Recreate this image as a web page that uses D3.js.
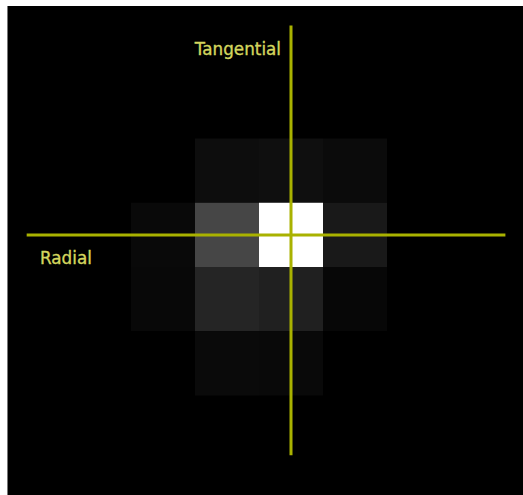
<!DOCTYPE html>
<html>
<head>
<meta charset="utf-8">
<script src="https://cdn.jsdelivr.net/npm/d3@7"></script>
<style>
  html, body { margin: 0; padding: 0; background: #ffffff; }
  svg { display: block; }
</style>
</head>
<body>
<svg id="chart" width="523" height="495"></svg>
<script>
// Pixel-grid intensities (0 = black, 255 = white), rows top to bottom
const rows = [0, 1, 2, 3];
const cols = [0, 1, 2, 3];
const intensity = [
  [0, 13, 15, 11],
  [9, 70, 255, 25],
  [8, 37, 32, 7],
  [0, 10, 9, 0]
];
// Crosshair position (grid units) and extents
const centerCol = 2.5;
const centerRow = 1.5;
const radialExtent = [-1.63, 5.85];
const tangentialExtent = [-1.76, 4.93];
const axisLabels = ["Radial", "Tangential"];

const svg = d3.select("#chart");
const W = 523, H = 495;

// panel background
svg.append("rect").attr("x", 7).attr("y", 6).attr("width", W - 7).attr("height", H - 6).attr("fill", "#000");
svg.append("line").attr("x1", 7.5).attr("x2", 7.5).attr("y1", 6).attr("y2", H)
  .attr("stroke", "#777").attr("stroke-width", 1);

const x = d3.scaleLinear().domain([0, 4]).range([131, 387]);
const y = d3.scaleLinear().domain([0, 4]).range([138.5, 395.5]);

const cells = [];
rows.forEach(r => cols.forEach(c => cells.push({r, c, v: intensity[r][c]})));

svg.append("g").selectAll("rect").data(cells).join("rect")
  .attr("x", d => x(d.c))
  .attr("y", d => y(d.r))
  .attr("width", d => x(d.c + 1) - x(d.c))
  .attr("height", d => y(d.r + 1) - y(d.r))
  .attr("fill", d => d3.rgb(d.v, d.v, d.v));

const lineColor = "#a9b200";
// Radial (horizontal) line
svg.append("line")
  .attr("x1", x(radialExtent[0])).attr("x2", x(radialExtent[1]))
  .attr("y1", y(centerRow)).attr("y2", y(centerRow))
  .attr("stroke", lineColor).attr("stroke-width", 3);
// Tangential (vertical) line
svg.append("line")
  .attr("x1", x(centerCol)).attr("x2", x(centerCol))
  .attr("y1", y(tangentialExtent[0])).attr("y2", y(tangentialExtent[1]))
  .attr("stroke", lineColor).attr("stroke-width", 3);

const labelColor = "#d4d65e";
svg.append("text")
  .attr("x", 40).attr("y", 264)
  .attr("font-family", "DejaVu Sans").attr("font-size", 16.8)
  .attr("fill", labelColor).attr("stroke", labelColor).attr("stroke-width", 0.35)
  .text(axisLabels[0]);
svg.append("text")
  .attr("x", x(centerCol) - 10).attr("y", 54.5)
  .attr("text-anchor", "end")
  .attr("font-family", "DejaVu Sans").attr("font-size", 16.8)
  .attr("fill", labelColor).attr("stroke", labelColor).attr("stroke-width", 0.35)
  .text(axisLabels[1]);
</script>
</body>
</html>
